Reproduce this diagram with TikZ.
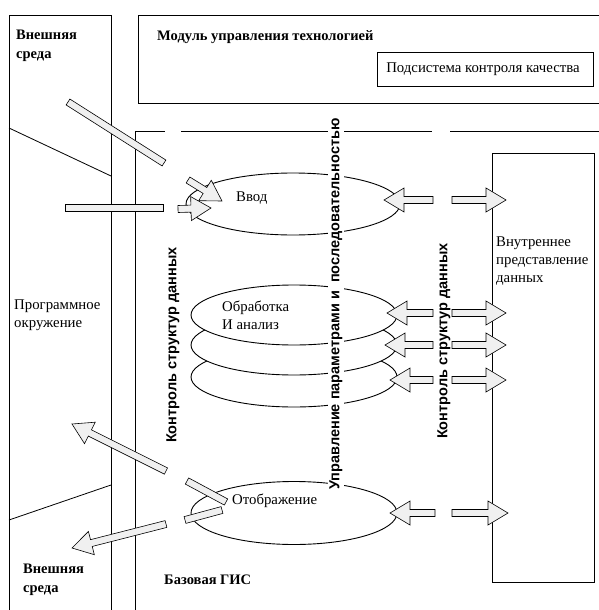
\documentclass[tikz,border=0pt]{standalone}
\usepackage{fontspec}
\setmainfont{Liberation Serif}
\setsansfont{Liberation Sans}
\usetikzlibrary{shapes.geometric}
\usetikzlibrary{calc}

\tikzset{
  frame/.style={line width=0.8pt},
  blk/.style={fill=gray!12, draw=black, line width=0.6pt, line join=miter},
  lbl/.style={font=\fontsize{14.8}{18}\selectfont, align=left, inner sep=0pt},
  hdr/.style={font=\bfseries\fontsize{14.5}{19}\selectfont, align=left, inner sep=0pt},
  vtxt/.style={font=\sffamily\bfseries\fontsize{14.5}{17}\selectfont, rotate=90, fill=white, inner sep=1.5pt},
  disk/.style={ellipse, draw, line width=0.9pt, fill=white, minimum width=206, minimum height=60},
}

% hollow block arrow: tail #1, tip #2
\newcommand{\blockarr}[2]{%
  \coordinate (hb) at ($(#2)!20pt!(#1)$);
  \filldraw[blk] ($(#1)!3.5pt!90:(#2)$) -- ($(hb)!3.5pt!-90:(#1)$)
    -- ($(hb)!12pt!-90:(#1)$) -- (#2) -- ($(hb)!12pt!90:(#1)$)
    -- ($(hb)!3.5pt!90:(#1)$) -- ($(#1)!3.5pt!-90:(#2)$) -- cycle;
}
% shaft piece without head
\newcommand{\barpiece}[2]{%
  \filldraw[blk] ($(#1)!3.5pt!90:(#2)$) -- ($(#2)!3.5pt!-90:(#1)$)
    -- ($(#2)!3.5pt!90:(#1)$) -- ($(#1)!3.5pt!-90:(#2)$) -- cycle;
}

\begin{document}
\begin{tikzpicture}[x=1pt, y=-1pt]
\useasboundingbox (0,0) rectangle (599,610);
% outer frames
\draw[frame] (111,610) -- (111,15) -- (9,15) -- (9,610);
\draw[frame] (9,128) -- (111,176);
\draw[frame] (9,520) -- (111,485);
\draw[frame] (599,15) -- (138,15) -- (138,103) -- (599,103);
\draw[frame] (377,52) rectangle (593,86);
\draw[frame] (135,610) -- (135,131) -- (165,131);
\draw[frame] (181,131) -- (432,131);
\draw[frame] (450,131) -- (599,131);
\draw[frame] (492,153) rectangle (594,582);

% processes
\node[disk, minimum width=214, minimum height=62] (vvod) at (293,204) {};
\node[disk] (obr3) at (294,377) {};
\node[disk] (obr2) at (294,345) {};
\node[disk] (obr1) at (294,315) {};
\node[disk, minimum height=63] (otobr) at (294,513) {};

% texts
\node[hdr, anchor=west] (env1) at (16,46) {Внешняя\\среда};
\node[hdr, anchor=west] (env2) at (23,580) {Внешняя\\среда};
\node[lbl, anchor=west] (prog) at (14,315) {Программное\\окружение};
\node[hdr, anchor=west] (mod) at (157,37) {Модуль управления технологией};
\node[lbl] (qc) at (483,69) {Подсистема контроля качества};
\node[hdr, anchor=west] (gis) at (164,580) {Базовая ГИС};
\node[lbl, anchor=west] (vnutr) at (496,261) {Внутреннее\\представление\\данных};
\node[lbl, anchor=west] (tvvod) at (236,198) {Ввод};
\node[lbl, anchor=west] (tobr) at (222,315) {Обработка\\И анализ};
\node[lbl, anchor=west] (totobr) at (232,501) {Отображение};

\node[vtxt] (ks1) at (173,345) {Контроль структур данных};
\node[vtxt] (upr) at (336,304) {Управление параметрами и\ \ последовательностью};
\node[vtxt] (ks2) at (444,341) {Контроль структур данных};

% input arrows
\coordinate (i1a) at (68,102);
\coordinate (i1b) at (164,163);
\coordinate (i1c) at (188,180);
\coordinate (i1d) at (222,201);
\barpiece{i1a}{i1b}
\blockarr{i1c}{i1d}
\coordinate (i2a) at (65,208);
\coordinate (i2b) at (163,208);
\coordinate (i2c) at (178,209);
\coordinate (i2d) at (211,208);
\barpiece{i2a}{i2b}
\blockarr{i2c}{i2d}

% exchange with internal representation
\coordinate (r1) at (433,200); \coordinate (r1t) at (384,200);
\coordinate (s1) at (452,200); \coordinate (s1t) at (506,200);
\coordinate (r2) at (433,313); \coordinate (r2t) at (387,313);
\coordinate (s2) at (452,313); \coordinate (s2t) at (506,313);
\coordinate (r3) at (433,345); \coordinate (r3t) at (385,345);
\coordinate (s3) at (452,345); \coordinate (s3t) at (506,345);
\coordinate (r4) at (433,380); \coordinate (r4t) at (390,380);
\coordinate (s4) at (452,380); \coordinate (s4t) at (506,380);
\coordinate (r5) at (435,513); \coordinate (r5t) at (390,513);
\coordinate (s5) at (452,513); \coordinate (s5t) at (508,513);
\blockarr{r1}{r1t} \blockarr{s1}{s1t}
\blockarr{r2}{r2t} \blockarr{s2}{s2t}
\blockarr{r3}{r3t} \blockarr{s3}{s3t}
\blockarr{r4}{r4t} \blockarr{s4}{s4t}
\blockarr{r5}{r5t} \blockarr{s5}{s5t}

% output arrows
\coordinate (o1a) at (226,502);
\coordinate (o1b) at (187,481);
\coordinate (o1c) at (166,471);
\coordinate (o1d) at (72,424);
\barpiece{o1a}{o1b}
\blockarr{o1c}{o1d}
\coordinate (o2a) at (222,510);
\coordinate (o2b) at (185,520);
\coordinate (o2c) at (166,524);
\coordinate (o2d) at (72,548);
\barpiece{o2a}{o2b}
\blockarr{o2c}{o2d}
\end{tikzpicture}
\end{document}
